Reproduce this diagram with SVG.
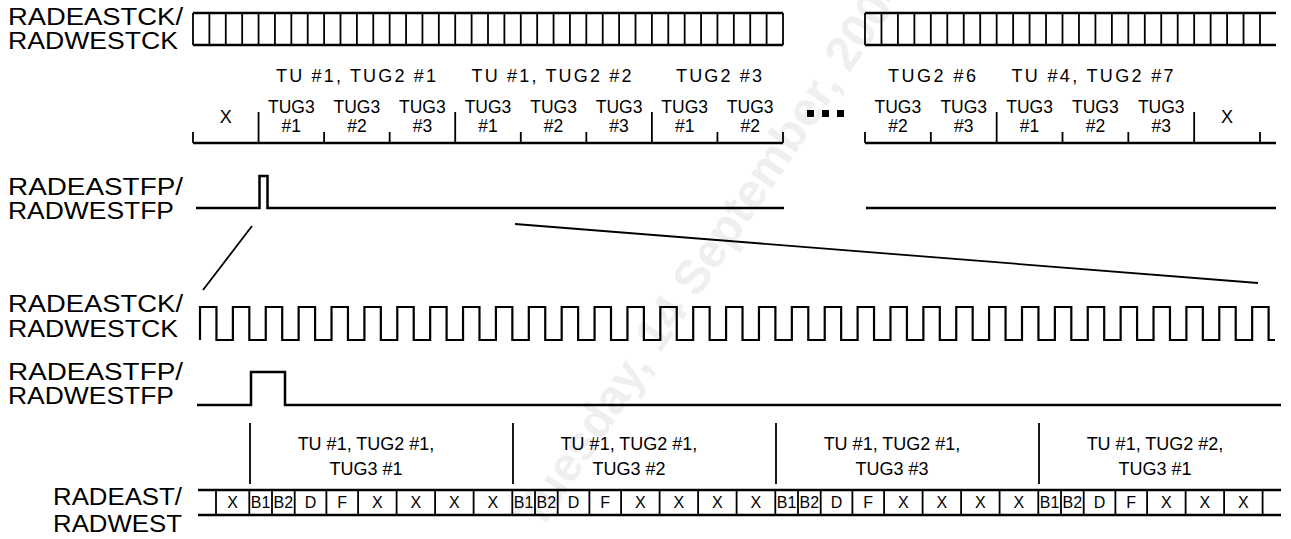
<svg xmlns="http://www.w3.org/2000/svg" width="1291" height="539" viewBox="0 0 1291 539">
<style>
text{font-family:"Liberation Sans",Arial,Helvetica,sans-serif;fill:#000}
.lbl{font-size:23.5px}
.t18{font-size:18px;text-anchor:middle}
.t17{font-size:17.5px;text-anchor:middle}
.cell{font-size:16px;text-anchor:middle}
.wm{font-size:48px;font-weight:bold;fill:#efefef}
.ln{stroke:#000;stroke-width:2.5;fill:none}
.th{stroke:#000;stroke-width:1.8;fill:none}
.wave{stroke:#000;stroke-width:2.2;fill:none;stroke-linejoin:miter}
</style>
<rect width="1291" height="539" fill="#fff"/>
<text class="wm" transform="translate(540,532) rotate(-56)">Tuesday, 14 September, 2004</text>

<g id="labels">
<text class="lbl" x="8" y="25" textLength="175" lengthAdjust="spacingAndGlyphs">RADEASTCK/</text>
<text class="lbl" x="8" y="49" textLength="170" lengthAdjust="spacingAndGlyphs">RADWESTCK</text>
<text class="lbl" x="8" y="195" textLength="175" lengthAdjust="spacingAndGlyphs">RADEASTFP/</text>
<text class="lbl" x="8" y="219" textLength="166" lengthAdjust="spacingAndGlyphs">RADWESTFP</text>
<text class="lbl" x="8" y="312" textLength="175" lengthAdjust="spacingAndGlyphs">RADEASTCK/</text>
<text class="lbl" x="8" y="337" textLength="170" lengthAdjust="spacingAndGlyphs">RADWESTCK</text>
<text class="lbl" x="8" y="380" textLength="175" lengthAdjust="spacingAndGlyphs">RADEASTFP/</text>
<text class="lbl" x="8" y="404" textLength="166" lengthAdjust="spacingAndGlyphs">RADWESTFP</text>
<text class="lbl" x="53" y="505" textLength="129" lengthAdjust="spacingAndGlyphs">RADEAST/</text>
<text class="lbl" x="53" y="532" textLength="129" lengthAdjust="spacingAndGlyphs">RADWEST</text>
</g>

<g id="top-clock">
<path class="ln" d="M193,13H783M193,45H783M865,13H1276M865,45H1276"/>
<path class="th" d="M193,13V45M209.39,13V45M225.78,13V45M242.17,13V45M258.56,13V45M274.94,13V45M291.33,13V45M307.72,13V45M324.11,13V45M340.5,13V45M356.89,13V45M373.28,13V45M389.67,13V45M406.06,13V45M422.44,13V45M438.83,13V45M455.22,13V45M471.61,13V45M488,13V45M504.39,13V45M520.78,13V45M537.17,13V45M553.56,13V45M569.94,13V45M586.33,13V45M602.72,13V45M619.11,13V45M635.5,13V45M651.89,13V45M668.28,13V45M684.67,13V45M701.06,13V45M717.44,13V45M733.83,13V45M750.22,13V45M766.61,13V45M783,13V45"/>
<path class="th" d="M865,13V45M881.46,13V45M897.92,13V45M914.38,13V45M930.83,13V45M947.29,13V45M963.75,13V45M980.21,13V45M996.67,13V45M1013.13,13V45M1029.58,13V45M1046.04,13V45M1062.5,13V45M1078.96,13V45M1095.42,13V45M1111.88,13V45M1128.33,13V45M1144.79,13V45M1161.25,13V45M1177.71,13V45M1194.17,13V45M1210.63,13V45M1227.08,13V45M1243.54,13V45M1260,13V45"/>
</g>

<g id="tu-row">
<text class="t18" x="356" y="82" textLength="160" lengthAdjust="spacing">TU #1, TUG2 #1</text>
<text class="t18" x="551.5" y="82" textLength="160" lengthAdjust="spacing">TU #1, TUG2 #2</text>
<text class="t18" x="719" y="82" textLength="86" lengthAdjust="spacing">TUG2 #3</text>
<text class="t18" x="932" y="82" textLength="88" lengthAdjust="spacing">TUG2 #6</text>
<text class="t18" x="1092.5" y="82" textLength="162" lengthAdjust="spacing">TU #4, TUG2 #7</text>
</g>

<g id="tug3-row">
<path class="ln" d="M193,143H783M865,143H1276"/>
<path class="th" d="M193,132V143M324.11,132V143M389.67,132V143M520.78,132V143M586.33,132V143M717.44,132V143M783,132V143M258.56,112V143M455.22,112V143M651.89,112V143M865,132V143M930.83,132V143M1062.5,132V143M1128.33,132V143M1260,132V143M996.67,112V143M1194.17,112V143"/>
<text class="t18" x="225.8" y="123">X</text>
<text class="t17" x="291.3" y="113">TUG3</text><text class="t17" x="291.3" y="132">#1</text>
<text class="t17" x="356.9" y="113">TUG3</text><text class="t17" x="356.9" y="132">#2</text>
<text class="t17" x="422.4" y="113">TUG3</text><text class="t17" x="422.4" y="132">#3</text>
<text class="t17" x="488" y="113">TUG3</text><text class="t17" x="488" y="132">#1</text>
<text class="t17" x="553.6" y="113">TUG3</text><text class="t17" x="553.6" y="132">#2</text>
<text class="t17" x="619.1" y="113">TUG3</text><text class="t17" x="619.1" y="132">#3</text>
<text class="t17" x="684.7" y="113">TUG3</text><text class="t17" x="684.7" y="132">#1</text>
<text class="t17" x="750.2" y="113">TUG3</text><text class="t17" x="750.2" y="132">#2</text>
<text class="t17" x="897.9" y="113">TUG3</text><text class="t17" x="897.9" y="132">#2</text>
<text class="t17" x="963.75" y="113">TUG3</text><text class="t17" x="963.75" y="132">#3</text>
<text class="t17" x="1029.6" y="113">TUG3</text><text class="t17" x="1029.6" y="132">#1</text>
<text class="t17" x="1095.4" y="113">TUG3</text><text class="t17" x="1095.4" y="132">#2</text>
<text class="t17" x="1161.25" y="113">TUG3</text><text class="t17" x="1161.25" y="132">#3</text>
<text class="t18" x="1227.1" y="123">X</text>
<rect x="807" y="110" width="7" height="7"/>
<rect x="822" y="110" width="7" height="7"/>
<rect x="837" y="110" width="7" height="7"/>
</g>

<g id="top-fp">
<path class="ln" d="M196,208H259.5V176H267.5V208H784M866,208H1276"/>
</g>

<g id="connectors">
<path class="th" d="M252,226L203,290M515,224L1258,283"/>
</g>

<g id="bottom-clock">
<path class="wave" d="M200,340V307
h16.44V340h16.44V307h16.44V340h16.44V307h16.44V340h16.44V307h16.44V340h16.44V307
h16.44V340h16.44V307h16.44V340h16.44V307h16.44V340h16.44V307h16.44V340h16.44V307
h16.44V340h16.44V307h16.44V340h16.44V307h16.44V340h16.44V307h16.44V340h16.44V307
h16.44V340h16.44V307h16.44V340h16.44V307h16.44V340h16.44V307h16.44V340h16.44V307
h16.44V340h16.44V307h16.44V340h16.44V307h16.44V340h16.44V307h16.44V340h16.44V307
h16.44V340h16.44V307h16.44V340h16.44V307h16.44V340h16.44V307h16.44V340h16.44V307
h16.44V340h16.44V307h16.44V340h16.44V307h16.44V340h16.44V307h16.44V340h16.44V307
h16.44V340h16.44V307h16.44V340h16.44V307h16.44V340h16.44V307h16.44V340h16.44V307
h16.44V340H1275"/>
</g>

<g id="bottom-fp">
<path class="ln" d="M197,405H251V372H285V405H1281"/>
</g>

<g id="sections">
<path class="th" d="M250,423V484M513,423V484M776,423V484M1039,423V484"/>
<text class="t18" x="366" y="450">TU #1, TUG2 #1,</text><text class="t18" x="366" y="475">TUG3 #1</text>
<text class="t18" x="629" y="450">TU #1, TUG2 #1,</text><text class="t18" x="629" y="475">TUG3 #2</text>
<text class="t18" x="892" y="450">TU #1, TUG2 #1,</text><text class="t18" x="892" y="475">TUG3 #3</text>
<text class="t18" x="1155" y="450">TU #1, TUG2 #2,</text><text class="t18" x="1155" y="475">TUG3 #1</text>
</g>

<g id="data-row">
<path class="ln" d="M198,490H1281M198,515H1281"/>
<path class="th" d="M216,490V515M249.3,490V515M272,490V515M294.7,490V515M326.4,490V515M358.1,490V515M396.6,490V515M435.1,490V515M473.6,490V515M512.3,490V515M535,490V515M557.7,490V515M589.4,490V515M621.1,490V515M659.6,490V515M698.1,490V515M736.6,490V515M775.3,490V515M798,490V515M820.7,490V515M852.4,490V515M884.1,490V515M922.6,490V515M961.1,490V515M999.6,490V515M1038.3,490V515M1061,490V515M1083.7,490V515M1115.4,490V515M1147.1,490V515M1185.6,490V515M1224.1,490V515M1262.6,490V515"/>
<text class="cell" x="232.6" y="508">X</text>
<text class="cell" x="260.6" y="508">B1</text><text class="cell" x="283.3" y="508">B2</text><text class="cell" x="310.5" y="508">D</text><text class="cell" x="342.2" y="508">F</text><text class="cell" x="377.3" y="508">X</text><text class="cell" x="415.8" y="508">X</text><text class="cell" x="454.3" y="508">X</text><text class="cell" x="492.9" y="508">X</text>
<text class="cell" x="523.6" y="508">B1</text><text class="cell" x="546.3" y="508">B2</text><text class="cell" x="573.5" y="508">D</text><text class="cell" x="605.2" y="508">F</text><text class="cell" x="640.3" y="508">X</text><text class="cell" x="678.8" y="508">X</text><text class="cell" x="717.3" y="508">X</text><text class="cell" x="755.9" y="508">X</text>
<text class="cell" x="786.6" y="508">B1</text><text class="cell" x="809.3" y="508">B2</text><text class="cell" x="836.5" y="508">D</text><text class="cell" x="868.2" y="508">F</text><text class="cell" x="903.3" y="508">X</text><text class="cell" x="941.8" y="508">X</text><text class="cell" x="980.3" y="508">X</text><text class="cell" x="1018.9" y="508">X</text>
<text class="cell" x="1049.6" y="508">B1</text><text class="cell" x="1072.3" y="508">B2</text><text class="cell" x="1099.5" y="508">D</text><text class="cell" x="1131.2" y="508">F</text><text class="cell" x="1166.3" y="508">X</text><text class="cell" x="1204.8" y="508">X</text><text class="cell" x="1243.3" y="508">X</text>
</g>
</svg>
